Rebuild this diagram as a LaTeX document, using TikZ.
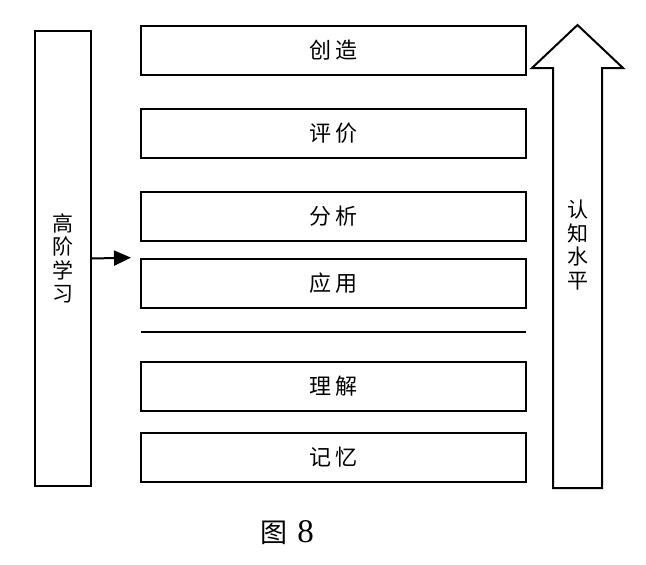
\documentclass[tikz,border=0pt]{standalone}
\usepackage{fontspec}
\setmainfont{Liberation Serif}
\newfontfamily\cjk{Noto Sans CJK SC}
\usetikzlibrary{arrows.meta, positioning}

\begin{document}
\begin{tikzpicture}[x=1pt, y=-1pt,
    level/.style={draw, line width=2pt, minimum width=385pt,
                  minimum height=49pt, inner sep=0pt,
                  font=\cjk\fontsize{22}{24}\selectfont},
    vtext/.style={align=center, inner sep=0pt,
                  font=\cjk\fontsize{21}{23.5}\selectfont}]
  \useasboundingbox (0,0) rectangle (646,565);

  % left column
  \node[draw, line width=2pt, minimum width=56pt, minimum height=455pt,
        inner sep=0pt, vtext] (high) at (63,258.5) {高\\阶\\学\\习};

  % levels
  \node[level] (create)   at (333.5,50.5)  {创\,造};
  \node[level] (evaluate) at (333.5,133.5) {评\,价};
  \node[level] (analyse)  at (333.5,216.5) {分\,析};
  \node[level] (apply)    at (333.5,283)   {应\,用};
  \node[level] (know)     at (333.5,386.5) {理\,解};
  \node[level] (remember) at (333.5,457.5) {记\,忆};

  % split line
  \coordinate (split-l) at (141,332);
  \coordinate (split-r) at (526,332);
  \draw[line width=2pt] (split-l) -- (split-r);

  \draw[line width=2pt, -{Triangle[length=17pt, width=15pt]}, shorten >=9pt]
    (high.east) -- (apply.north west);

  % big arrow
  \draw[line width=2pt, line join=miter]
    (553,488) -- (553,68) -- (532,68) -- (577.5,25) -- (623,68)
    -- (602,68) -- (602,488) -- cycle;
  \node[vtext] (cogn) at (577.5,245) {认\\知\\水\\平};

  \node[inner sep=0pt] (caption) at (287,533)
    {{\cjk\fontsize{27}{30}\selectfont 图}\hspace{10pt}{\fontsize{33}{34}\selectfont 8}};
\end{tikzpicture}
\end{document}
